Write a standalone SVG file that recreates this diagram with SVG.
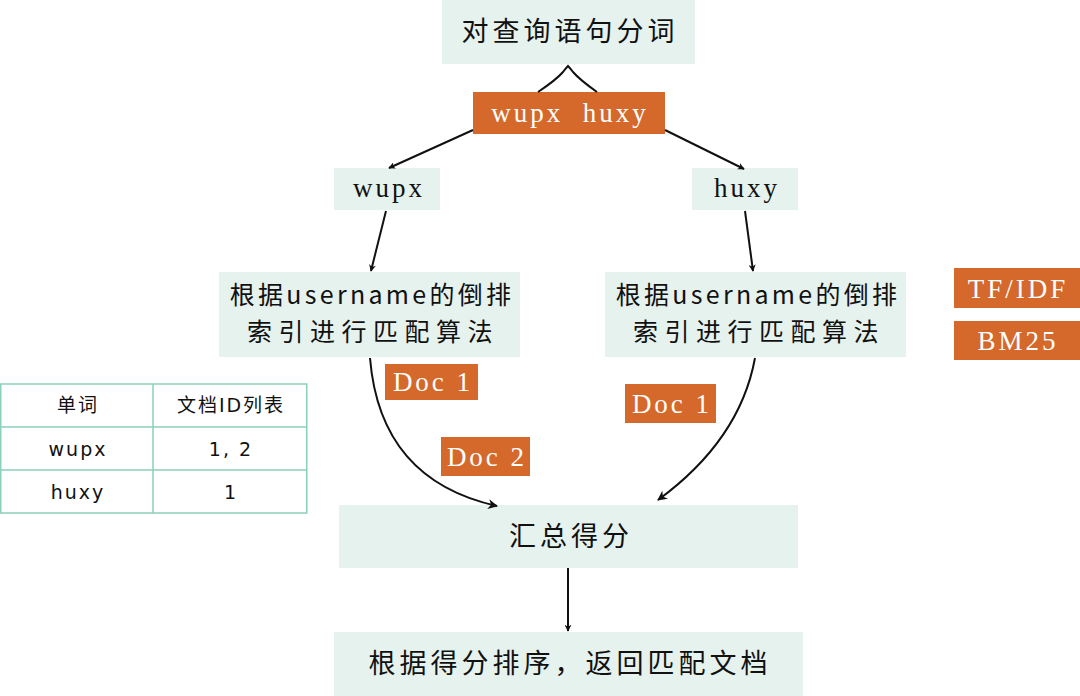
<svg xmlns="http://www.w3.org/2000/svg" width="1080" height="696" viewBox="0 0 1080 696">
<style>
.box{fill:#e6f2ee}
.tag{fill:#d4692b}
.cn{font-family:"Noto Sans CJK SC",sans-serif;font-size:27px;letter-spacing:4px;fill:#111;text-anchor:middle}
.al{font-family:"Noto Sans CJK SC",sans-serif;font-size:25px;letter-spacing:3.3px;fill:#111;text-anchor:middle}
.al2{font-family:"Noto Sans CJK SC",sans-serif;font-size:25px;letter-spacing:6.5px;fill:#111;text-anchor:middle}
.lat{font-family:"Liberation Serif","Noto Sans CJK SC",serif;font-size:27px;letter-spacing:3px;text-anchor:middle}
.w{fill:#fff}
.k{fill:#111}
.tb{font-family:"DejaVu Sans","Noto Sans CJK SC",sans-serif;font-size:19px;letter-spacing:2px;fill:#111;text-anchor:middle}
.ln{fill:none;stroke:#111;stroke-width:2}
.cell{fill:none;stroke:#8ccfbd;stroke-width:1.5}
</style>
<defs>
<marker id="ah" viewBox="0 0 10 10" refX="9" refY="5" markerWidth="7" markerHeight="7" orient="auto" markerUnits="userSpaceOnUse">
<path d="M0,0 L10,5 L0,10 L3,5 z" fill="#111"/>
</marker>
<marker id="ahs" viewBox="0 0 10 10" refX="9" refY="5" markerWidth="10" markerHeight="10" orient="auto" markerUnits="userSpaceOnUse">
<path d="M0,0 L10,5 L0,10 L3,5 z" fill="#111"/>
</marker>
</defs>

<g id="n-top"><rect class="box" x="442" y="0" width="253" height="64"/><text class="cn" x="570" y="41">对查询语句分词</text></g>
<g id="n-split"><rect class="tag" x="473" y="92" width="192" height="42"/><text class="lat w" x="570" y="122" xml:space="preserve">wupx  huxy</text></g>
<g id="n-wupx"><rect class="box" x="334" y="168" width="106" height="42"/><text class="lat k" x="389" y="197">wupx</text></g>
<g id="n-huxy"><rect class="box" x="692" y="168" width="106" height="42"/><text class="lat k" x="747" y="197">huxy</text></g>
<g id="n-algo1"><rect class="box" x="219" y="272" width="301" height="85"/><text class="al" x="372" y="304">根据username的倒排</text><text class="al2" x="373" y="341">索引进行匹配算法</text></g>
<g id="n-algo2"><rect class="box" x="605" y="272" width="301" height="85"/><text class="al" x="758" y="304">根据username的倒排</text><text class="al2" x="759" y="341">索引进行匹配算法</text></g>
<g id="n-tfidf"><rect class="tag" x="954" y="268" width="126" height="40"/><text class="lat w" x="1018" y="298">TF/IDF</text></g>
<g id="n-bm25"><rect class="tag" x="954" y="321" width="126" height="39"/><text class="lat w" x="1018" y="350">BM25</text></g>
<g id="n-doc1a"><rect class="tag" x="385" y="364" width="93" height="36"/><text class="lat w" x="433" y="391" xml:space="preserve">Doc 1</text></g>
<g id="n-doc2"><rect class="tag" x="441" y="437" width="89" height="39"/><text class="lat w" x="487" y="466" xml:space="preserve">Doc 2</text></g>
<g id="n-doc1b"><rect class="tag" x="625" y="384" width="91" height="39"/><text class="lat w" x="672" y="413" xml:space="preserve">Doc 1</text></g>
<g id="n-sum"><rect class="box" x="339" y="505" width="459" height="63"/><text class="cn" x="571" y="546">汇总得分</text></g>
<g id="n-final"><rect class="box" x="334" y="632" width="469" height="64"/><text class="cn" x="570" y="673">根据得分排序，返回匹配文档</text></g>

<g id="n-table">
<rect x="0" y="384" width="307" height="129" fill="#fff"/>
<rect class="cell" x="0.75" y="384" width="306" height="129"/>
<line class="cell" x1="153" y1="384" x2="153" y2="513"/>
<line class="cell" x1="0" y1="427" x2="307" y2="427"/>
<line class="cell" x1="0" y1="470" x2="307" y2="470"/>
<text class="tb" x="78" y="412">单词</text>
<text class="tb" x="231" y="412">文档ID列表</text>
<text class="tb" x="78" y="456">wupx</text>
<text class="tb" x="231" y="456">1, 2</text>
<text class="tb" x="78" y="499">huxy</text>
<text class="tb" x="231" y="499">1</text>
</g>

<g id="connectors">
<path class="ln" d="M538,92 Q556,80 563,72 Q566,68 568,66 Q570,68 573,72 Q580,80 597,92"/>
<line class="ln" x1="473" y1="130" x2="389" y2="168" marker-end="url(#ah)"/>
<line class="ln" x1="665" y1="130" x2="744" y2="169" marker-end="url(#ah)"/>
<line class="ln" x1="386" y1="211" x2="371" y2="271" marker-end="url(#ah)"/>
<line class="ln" x1="745" y1="211" x2="753" y2="271" marker-end="url(#ah)"/>
<path class="ln" d="M370,358 Q380,480 497,506" marker-end="url(#ahs)"/>
<path class="ln" d="M755,358 Q740,440 658,500" marker-end="url(#ahs)"/>
<line class="ln" x1="568" y1="568" x2="568" y2="631" marker-end="url(#ah)"/>
</g>
</svg>
